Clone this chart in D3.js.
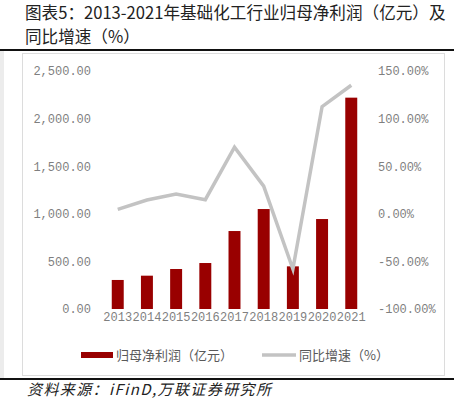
<!DOCTYPE html>
<html>
<head>
<meta charset="utf-8">
<script src="https://cdn.jsdelivr.net/npm/d3@7"></script>
<style>
  body { margin: 0; background: #fff; }
  svg { display: block; }
</style>
</head>
<body>
<svg id="chart"></svg>
<script>
// data
const years = ["2013", "2014", "2015", "2016", "2017", "2018", "2019", "2020", "2021"]
const profit = [305, 350, 420, 483, 819, 1050, 448, 945, 2220]   // 归母净利润（亿元）
const growth = [4.7, 14.5, 20.8, 14.8, 70, 29, -58, 112.5, 135]  // 同比增速（%）
const leftTicks = [0, 500, 1000, 1500, 2000, 2500]
const rightTicks = [-100, -50, 0, 50, 100, 150]

const width = 454, height = 398
const svg = d3.select("#chart").attr("width", width).attr("height", height)

const cjk = "'Noto Sans CJK SC', sans-serif"
const mono = "'Liberation Mono', monospace"
const red = "#990000", grey = "#c3c3c3", txt = "#7f7f7f"

// title
svg.append("text").attr("x", 25).attr("y", 19)
  .style("font", `16.6px ${cjk}`).attr("fill", "#222")
  .text("图表5：2013-2021年基础化工行业归母净利润（亿元）及")
svg.append("text").attr("x", 25).attr("y", 43)
  .style("font", `16.6px ${cjk}`).attr("fill", "#222")
  .text("同比增速（%）")

// frame lines
svg.append("rect").attr("x", 0).attr("y", 51).attr("width", 4).attr("height", 327).attr("fill", "#ececec")
svg.append("rect").attr("x", 0).attr("y", 49).attr("width", width).attr("height", 2).attr("fill", "#111")
svg.append("rect").attr("x", 22.5).attr("y", 53.5).attr("width", 422).attr("height", 322)
  .attr("fill", "none").attr("stroke", "#dcdcdc")
svg.append("rect").attr("x", 0).attr("y", 378).attr("width", width).attr("height", 2).attr("fill", "#111")

// scales
const x = d3.scaleBand().domain(years).range([103, 366]).paddingInner(0.59).paddingOuter(0.3)
const yL = d3.scaleLinear().domain([0, 2500]).range([309, 71])
const yR = d3.scaleLinear().domain([-100, 150]).range([309, 71])

// bars
svg.append("g").selectAll("rect")
  .data(years)
  .join("rect")
  .attr("x", d => x(d))
  .attr("width", x.bandwidth())
  .attr("y", (d, i) => yL(profit[i]))
  .attr("height", (d, i) => yL(0) - yL(profit[i]))
  .attr("fill", red)

// growth line
const line = d3.line()
  .x((d, i) => x(years[i]) + x.bandwidth() / 2)
  .y(d => yR(d))
svg.append("path").datum(growth)
  .attr("d", line)
  .attr("fill", "none")
  .attr("stroke", grey)
  .attr("stroke-width", 3.5)
  .attr("stroke-linejoin", "miter")

// axes
function styleAxis(g) {
  g.select(".domain").remove()
  g.selectAll("line").remove()
  g.selectAll("text").style("font", `12px ${mono}`).attr("fill", txt)
}

svg.append("g").attr("transform", "translate(91,0)")
  .call(d3.axisLeft(yL).tickValues(leftTicks).tickSize(0).tickPadding(0).tickFormat(d3.format(",.2f")))
  .call(styleAxis)

svg.append("g").attr("transform", "translate(378,0)")
  .call(d3.axisRight(yR).tickValues(rightTicks).tickSize(0).tickPadding(0).tickFormat(d => d.toFixed(2) + "%"))
  .call(styleAxis)

svg.append("g").attr("transform", "translate(0,312)")
  .call(d3.axisBottom(x).tickSize(0).tickPadding(0))
  .call(styleAxis)

// legend
const lg = svg.append("g")
lg.append("rect").attr("x", 81).attr("y", 352).attr("width", 32).attr("height", 6).attr("fill", red)
lg.append("text").attr("x", 116).attr("y", 360)
  .style("font", `13px ${cjk}`).attr("fill", "#595959").text("归母净利润（亿元）")
lg.append("line").attr("x1", 262).attr("x2", 296).attr("y1", 355).attr("y2", 355)
  .attr("stroke", grey).attr("stroke-width", 3.5)
lg.append("text").attr("x", 299).attr("y", 360)
  .style("font", `13px ${cjk}`).attr("fill", "#595959").text("同比增速（%）")

// source
svg.append("text").attr("x", 27).attr("y", 395)
  .style("font", `italic 15px ${cjk}`).style("letter-spacing", "1.4px").attr("fill", "#222")
  .text("资料来源：iFinD,万联证券研究所")
</script>
</body>
</html>
